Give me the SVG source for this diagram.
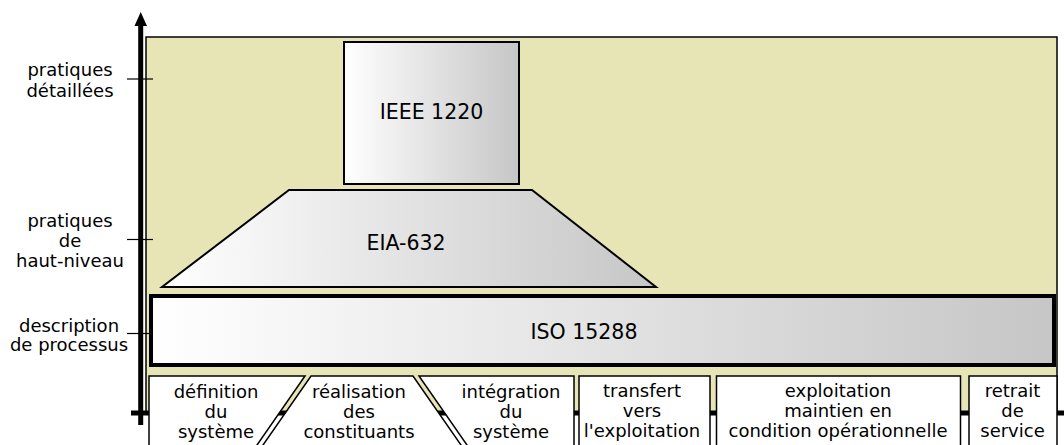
<svg xmlns="http://www.w3.org/2000/svg" width="1064" height="445" viewBox="0 0 1064 445">
  <defs>
    <linearGradient id="grey" x1="0" y1="0" x2="1" y2="0">
      <stop offset="0" stop-color="#ffffff"/>
      <stop offset="1" stop-color="#c6c6c6"/>
    </linearGradient>
    <style>
      .lbl { font-family: "DejaVu Sans", "Liberation Sans", sans-serif; font-size: 18px; fill: #000; text-anchor: middle; }
      .big { font-family: "DejaVu Sans", "Liberation Sans", sans-serif; font-size: 20.5px; fill: #000; text-anchor: middle; }
      .std { fill: url(#grey); stroke: #000; }
      .phase { fill: #ffffff; stroke: #000; stroke-width: 1.5; }
      .tick { stroke: #000; stroke-width: 1.2; }
    </style>
  </defs>
  <rect x="0" y="0" width="1064" height="445" fill="#ffffff"/>

  <g id="background">
    <rect x="146" y="37" width="911" height="376" fill="#e7e5b6" stroke="#000" stroke-width="1.5"/>
  </g>

  <g id="eia-632">
    <polygon class="std" stroke-width="2" points="289,190 532,190 656,287 162,287"/>
    <text class="big" x="406" y="250">EIA-632</text>
  </g>

  <g id="ieee-1220">
    <rect class="std" stroke-width="2" x="344" y="42" width="175" height="142"/>
    <text class="big" x="431.5" y="119">IEEE 1220</text>
  </g>

  <g id="iso-15288">
    <rect class="std" stroke-width="4" x="151" y="296" width="903" height="69"/>
    <text class="big" x="584" y="339">ISO 15288</text>
  </g>

  <g id="connectors">
    <line x1="131" y1="413" x2="1064" y2="413" stroke="#000" stroke-width="5"/>
    <line x1="140.7" y1="22" x2="140.7" y2="425" stroke="#000" stroke-width="5"/>
    <polygon points="140.7,12 134.5,26 147,26" fill="#000"/>
    <line class="tick" x1="127" y1="79" x2="153" y2="79"/>
    <line class="tick" x1="127" y1="239.5" x2="153" y2="239.5"/>
    <line class="tick" x1="127" y1="333.5" x2="153" y2="333.5"/>
  </g>

  <g id="phase-definition">
    <polygon class="phase" points="149,376 305,376 246.6,460 149,460"/>
    <text class="lbl" x="216" y="398">définition</text>
    <text class="lbl" x="216" y="418">du</text>
    <text class="lbl" x="216" y="437.5">système</text>
  </g>
  <g id="phase-realisation">
    <polygon class="phase" points="311,376 413,376 471.4,460 252.6,460"/>
    <text class="lbl" x="359" y="398">réalisation</text>
    <text class="lbl" x="359" y="418">des</text>
    <text class="lbl" x="359" y="437.5">constituants</text>
  </g>
  <g id="phase-integration">
    <polygon class="phase" points="419,376 574,376 574,460 477.4,460"/>
    <text class="lbl" x="511" y="398">intégration</text>
    <text class="lbl" x="511" y="418">du</text>
    <text class="lbl" x="511" y="437.5">système</text>
  </g>
  <g id="phase-transfert">
    <rect class="phase" x="579" y="376" width="131" height="84"/>
    <text class="lbl" x="642" y="397">transfert</text>
    <text class="lbl" x="642" y="417">vers</text>
    <text class="lbl" x="642" y="437">l'exploitation</text>
  </g>
  <g id="phase-exploitation">
    <rect class="phase" x="716.5" y="376" width="244" height="84"/>
    <text class="lbl" x="838" y="397">exploitation</text>
    <text class="lbl" x="838" y="417">maintien en</text>
    <text class="lbl" x="838" y="437">condition opérationnelle</text>
  </g>
  <g id="phase-retrait">
    <rect class="phase" x="969" y="376" width="88" height="84"/>
    <text class="lbl" x="1012.5" y="397">retrait</text>
    <text class="lbl" x="1012.5" y="417">de</text>
    <text class="lbl" x="1012.5" y="437">service</text>
  </g>

  <g id="level-labels">
    <text class="lbl" x="70" y="76">pratiques</text>
    <text class="lbl" x="70" y="96.5">détaillées</text>
    <text class="lbl" x="70" y="226.7">pratiques</text>
    <text class="lbl" x="70" y="246.7">de</text>
    <text class="lbl" x="70" y="266.7">haut-niveau</text>
    <text class="lbl" x="69" y="331.7">description</text>
    <text class="lbl" x="69" y="351">de processus</text>
  </g>
</svg>
